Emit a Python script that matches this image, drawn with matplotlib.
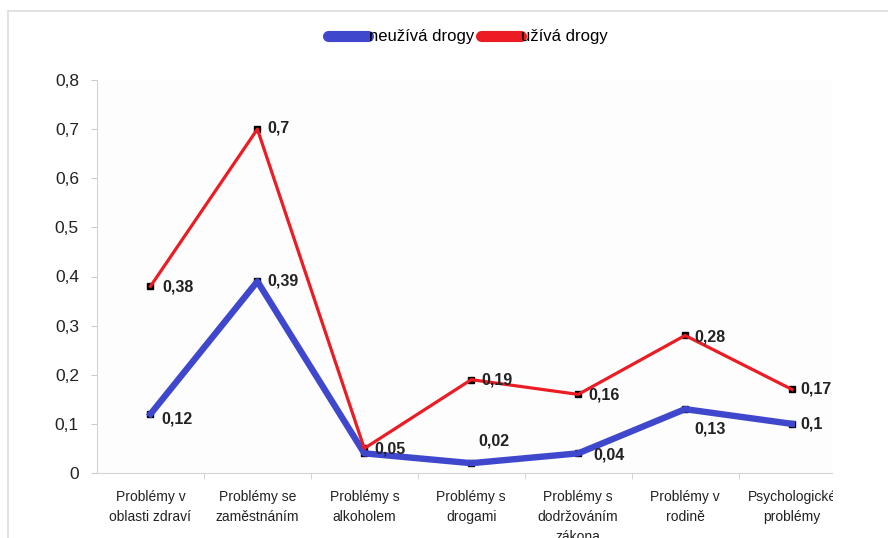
import matplotlib.pyplot as plt
from matplotlib.lines import Line2D
from matplotlib.patches import Rectangle

plt.rcParams['font.family'] = ['Liberation Sans', 'DejaVu Sans']

categories = ["Problémy v\noblasti zdraví", "Problémy se\nzaměstnáním", "Problémy s\nalkoholem",
              "Problémy s\ndrogami", "Problémy s\ndodržováním\nzákona", "Problémy v\nrodině",
              "Psychologické\nproblémy"]
neuziva = [0.12, 0.39, 0.04, 0.02, 0.04, 0.13, 0.10]
uziva = [0.38, 0.70, 0.05, 0.19, 0.16, 0.28, 0.17]
neuziva_labels = ["0,12", "0,39", None, "0,02", "0,04", "0,13", "0,1"]
uziva_labels = ["0,38", "0,7", "0,05", "0,19", "0,16", "0,28", "0,17"]

blue = "#3f48cc"
red = "#ec1c24"

W, H = 888, 538
fig = plt.figure(figsize=(W / 100, H / 100), dpi=100)
ax = fig.add_axes([97 / W, (H - 473) / H, (832 - 97) / W, (473 - 80) / H])

x = list(range(len(categories)))
# black square markers sit under the lines
ax.plot(x, neuziva, ls="none", marker="s", ms=4.5, color="black", zorder=2, clip_on=False)
ax.plot(x, uziva, ls="none", marker="s", ms=4.5, color="black", zorder=2, clip_on=False)
ax.plot(x, neuziva, color=blue, lw=4.6, zorder=3, solid_joinstyle="round", clip_on=False)
ax.plot(x, uziva, color=red, lw=2.3, zorder=4, clip_on=False)

# data labels (offsets in pixels)
off_blue = [(11, -5), (10, 0), None, (7, 22), (15, -2), (9, -20), (8, 0)]
off_red = [(12, -1), (10, 1), (10, -1), (10, 0), (10, -1), (9, -2), (8, 0)]
for i in x:
    if neuziva_labels[i] is not None:
        ax.annotate(neuziva_labels[i], (i, neuziva[i]), xytext=off_blue[i], textcoords="offset pixels",
                    ha="left", va="center", fontsize=11.5, fontweight="bold", color="#222222", zorder=5)
    ax.annotate(uziva_labels[i], (i, uziva[i]), xytext=off_red[i], textcoords="offset pixels",
                ha="left", va="center", fontsize=11.5, fontweight="bold", color="#222222", zorder=5)

ax.set_xlim(-0.5, (832 - 150) / 107)
ax.set_ylim(0, 0.8)
ax.set_yticks([i / 10 for i in range(9)])
ax.set_yticklabels(["0"] + ["0,%d" % i for i in range(1, 9)], fontsize=12.5, color="#222222")
ax.set_xticks(x)
ax.set_xticklabels(categories, fontsize=10, color="#222222", linespacing=1.55, va="top")
ax.tick_params(axis="x", length=0, pad=12)
ax.set_xticks([i - 0.5 for i in range(1, 7)], minor=True)
ax.tick_params(axis="x", which="minor", length=4, color="#cccccc", direction="out")
ax.tick_params(axis="y", length=4, color="#cccccc", pad=9)
for s in ["top", "right"]:
    ax.spines[s].set_visible(False)
for s in ["left", "bottom"]:
    ax.spines[s].set_color("#d4d4d4")
ax.set_facecolor("#fdfdfd")

handles = [Line2D([], [], color=blue, lw=8, solid_capstyle="round"),
           Line2D([], [], color=red, lw=8, solid_capstyle="round")]
fig.legend(handles, ["neužívá drogy", "užívá drogy"], loc="center", bbox_to_anchor=(468 / W, 1 - 37 / H),
           ncol=2, frameon=False, fontsize=12, handlelength=2.4, handletextpad=0.05, columnspacing=0.4)

# cropped right side and outer frame of the source picture
fig.patches.append(Rectangle((833 / W, 0), 1, (H - 14) / H, transform=fig.transFigure,
                             facecolor="white", edgecolor="none", zorder=10))
fig.add_artist(Line2D([8 / W, 1], [1 - 11 / H] * 2, color="#dddddd", lw=1.2, zorder=11))
fig.add_artist(Line2D([8 / W] * 2, [0, 1 - 11 / H], color="#dddddd", lw=1.2, zorder=11))

fig.savefig("out.png", dpi=100)
